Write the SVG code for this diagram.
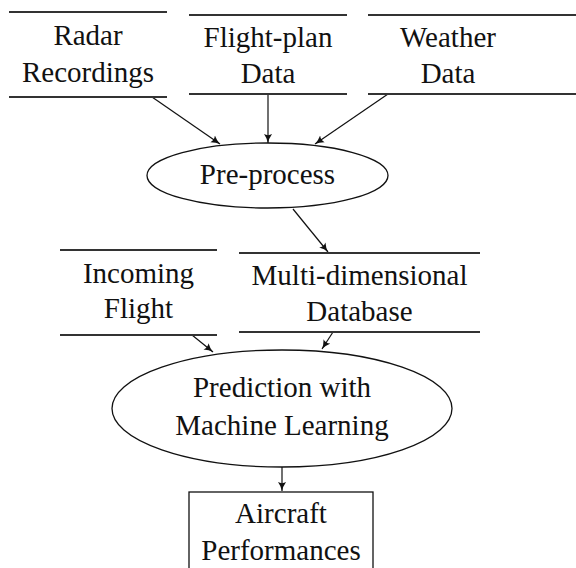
<svg xmlns="http://www.w3.org/2000/svg" width="576" height="568" viewBox="0 0 576 568">
<style>
text{font-family:"Liberation Serif","DejaVu Serif",serif;font-size:29px;fill:#111;text-anchor:middle}
.bar{stroke:#333;stroke-width:2}
.sh{fill:#fff;stroke:#111;stroke-width:1.3}
.c{stroke:#111;stroke-width:1.2;fill:none;marker-end:url(#ah)}
</style>
<defs>
<marker id="ah" viewBox="0 0 10 10" refX="10" refY="5" markerWidth="9" markerHeight="9" markerUnits="userSpaceOnUse" orient="auto">
<path d="M0,0.5 Q5,4 10,5 Q5,6 0,9.5 Q2.5,5 0,0.5Z" fill="#111"/>
</marker>
</defs>
<rect width="576" height="568" fill="#fff"/>
<g id="connectors">
<line class="c" x1="152" y1="97" x2="220" y2="144"/>
<line class="c" x1="268" y1="94" x2="268" y2="143"/>
<line class="c" x1="388" y1="94" x2="315" y2="144"/>
<line class="c" x1="293" y1="209" x2="328" y2="252"/>
<line class="c" x1="192" y1="335" x2="213" y2="352"/>
<line class="c" x1="333" y1="332" x2="322" y2="349"/>
<line class="c" x1="282" y1="467" x2="282" y2="491"/>
</g>
<g id="radar">
<line class="bar" x1="9" y1="12" x2="167" y2="12"/>
<line class="bar" x1="9" y1="97" x2="167" y2="97"/>
<text x="88" y="45">Radar</text>
<text x="88" y="82">Recordings</text>
</g>
<g id="flightplan">
<line class="bar" x1="189" y1="15" x2="347" y2="15"/>
<line class="bar" x1="189" y1="94" x2="347" y2="94"/>
<text x="268" y="47">Flight-plan</text>
<text x="268" y="83">Data</text>
</g>
<g id="weather">
<line class="bar" x1="368" y1="15" x2="576" y2="15"/>
<line class="bar" x1="368" y1="94" x2="576" y2="94"/>
<text x="448" y="47">Weather</text>
<text x="448" y="83">Data</text>
</g>
<g id="preprocess">
<ellipse class="sh" cx="267.5" cy="175.5" rx="120.5" ry="32.5"/>
<text x="267.5" y="184">Pre-process</text>
</g>
<g id="incoming">
<line class="bar" x1="60" y1="250" x2="217" y2="250"/>
<line class="bar" x1="60" y1="335" x2="217" y2="335"/>
<text x="138.5" y="283">Incoming</text>
<text x="138.5" y="318">Flight</text>
</g>
<g id="database">
<line class="bar" x1="239" y1="253" x2="480" y2="253"/>
<line class="bar" x1="239" y1="332" x2="480" y2="332"/>
<text x="359.5" y="285">Multi-dimensional</text>
<text x="359.5" y="321">Database</text>
</g>
<g id="prediction">
<ellipse class="sh" cx="282" cy="408.5" rx="170" ry="58.5"/>
<text x="282" y="397">Prediction with</text>
<text x="282" y="435">Machine Learning</text>
</g>
<g id="aircraft">
<rect class="sh" x="189" y="492" width="184" height="90"/>
<text x="281" y="523">Aircraft</text>
<text x="281" y="560">Performances</text>
</g>
</svg>
